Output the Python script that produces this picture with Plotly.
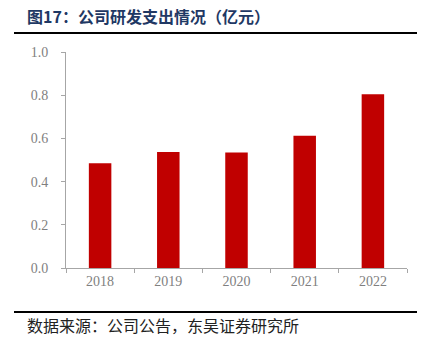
import plotly.graph_objects as go

years = ["2018", "2019", "2020", "2021", "2022"]
rd_expense = [0.485, 0.537, 0.535, 0.612, 0.804]
y_ticks = [0.0, 0.2, 0.4, 0.6, 0.8, 1.0]
y_tick_labels = ["0.0", "0.2", "0.4", "0.6", "0.8", "1.0"]

title_text = "图17：公司研发支出情况（亿元）"
source_text = "数据来源：公司公告，东吴证券研究所"

fig = go.Figure()
fig.add_trace(go.Bar(x=years, y=rd_expense, marker=dict(color="#C00000", line=dict(width=0)),
                     width=0.33, hoverinfo="x+y"))

axis_font = dict(family="Liberation Serif, DejaVu Serif, serif", size=14, color="#7F7F7F")
fig.update_layout(
    width=428, height=339,
    margin=dict(l=66, r=21, t=52, b=71),
    paper_bgcolor="white", plot_bgcolor="white",
    showlegend=False,
    xaxis=dict(type="category", showline=True, linecolor="#A6A6A6", linewidth=1,
               ticks="outside", ticklen=4, tickcolor="#A6A6A6", tickson="boundaries",
               tickfont=axis_font, showgrid=False, zeroline=False),
    yaxis=dict(range=[0, 1], tickvals=y_ticks, ticktext=y_tick_labels,
               showline=True, linecolor="#A6A6A6", linewidth=1,
               ticks="outside", ticklen=4, tickcolor="#A6A6A6",
               tickfont=axis_font, showgrid=False, zeroline=False,
               ticklabelstandoff=10),
    shapes=[
        dict(type="line", xref="paper", yref="paper", x0=-52/341, x1=351/341,
             y0=(268-33)/216, y1=(268-33)/216, line=dict(color="black", width=2)),
        dict(type="line", xref="paper", yref="paper", x0=-52/341, x1=351/341,
             y0=(268-312)/216, y1=(268-312)/216, line=dict(color="black", width=2)),
    ],
    annotations=[
        dict(text="<b>" + title_text + "</b>", xref="paper", yref="paper",
             x=(25-66)/341, y=(268-16)/216, xanchor="left", yanchor="middle",
             showarrow=False, font=dict(family="Noto Sans CJK SC", size=16, color="#1F3864")),
        dict(text=source_text, xref="paper", yref="paper",
             x=(25-66)/341, y=(268-325)/216, xanchor="left", yanchor="middle",
             showarrow=False, font=dict(family="Noto Sans CJK SC", size=16, color="#222222")),
    ],
)

fig.write_html("out.html")
